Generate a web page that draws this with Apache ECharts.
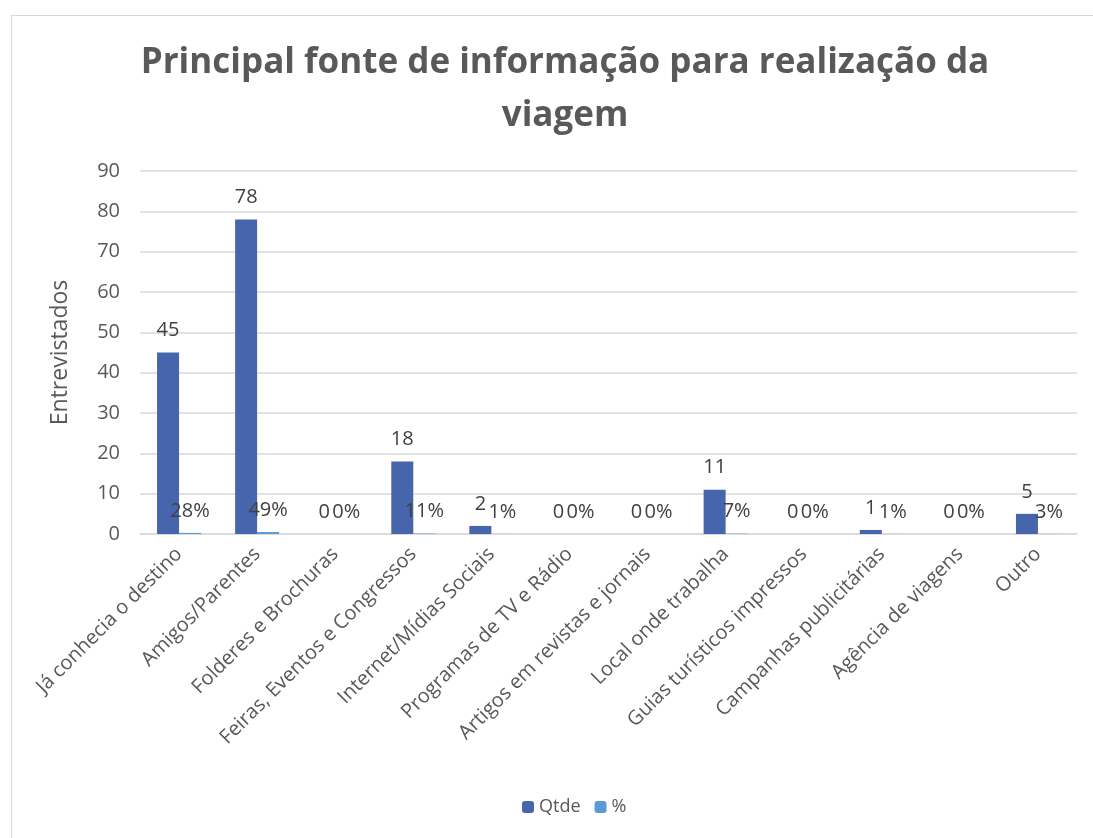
<!DOCTYPE html>
<html>
<head>
<meta charset="utf-8">
<script src="https://cdn.jsdelivr.net/npm/echarts@6/dist/echarts.min.js"></script>
<style>
  html, body { margin: 0; padding: 0; background: #fff; }
  #frame { position: absolute; left: 11px; top: 15px; width: 1100px; height: 840px; border-left: 1px solid #d9d9d9; border-top: 1px solid #d9d9d9; }
  #chart { position: absolute; left: 0; top: 0; width: 1093px; height: 838px; }
</style>
</head>
<body>
<div id="frame"></div>
<div id="chart"></div>
<script>
const categories = [
  "Já conhecia o destino",
  "Amigos/Parentes",
  "Folderes e Brochuras",
  "Feiras, Eventos e Congressos",
  "Internet/Mídias Sociais",
  "Programas de TV e Rádio",
  "Artigos em revistas e jornais",
  "Local onde trabalha",
  "Guias turísticos impressos",
  "Campanhas publicitárias",
  "Agência de viagens",
  "Outro"
];
const qtde = [45, 78, 0, 18, 2, 0, 0, 11, 0, 1, 0, 5];
const pct = [0.28, 0.49, 0, 0.11, 0.01, 0, 0, 0.07, 0, 0.01, 0, 0.03];
const yTicks = [0, 10, 20, 30, 40, 50, 60, 70, 80, 90];

const FONT = "'Open Sans', 'Noto Sans', sans-serif";
const chart = echarts.init(document.getElementById('chart'), null, { renderer: 'canvas' });
chart.setOption({
  backgroundColor: 'transparent',
  animation: false,
  textStyle: { fontFamily: FONT },
  title: {
    text: 'Principal fonte de informação para realização da\nviagem',
    left: 560,
    textAlign: 'center',
    top: 32,
    textStyle: { fontFamily: FONT, fontSize: 35, fontWeight: 'bold', color: '#595959', lineHeight: 53 }
  },
  legend: {
    bottom: 17,
    left: 517,
    itemWidth: 12,
    itemHeight: 12,
    itemGap: 14,
    textStyle: { fontFamily: FONT, fontSize: 18, color: '#595959' },
    data: ['Qtde', '%']
  },
  grid: { left: 140, right: 16, top: 171, bottom: 304, containLabel: false },
  xAxis: {
    type: 'category',
    data: categories,
    axisLine: { lineStyle: { color: '#d9d9d9', width: 1.5 } },
    axisTick: { show: false },
    axisLabel: { rotate: 45, interval: 0, fontFamily: FONT, fontSize: 20, color: '#595959', margin: 17 }
  },
  yAxis: {
    type: 'value',
    min: yTicks[0],
    max: yTicks[yTicks.length - 1],
    interval: 10,
    name: 'Entrevistados',
    nameLocation: 'middle',
    nameGap: 68,
    nameRotate: 90,
    nameTextStyle: { fontFamily: FONT, fontSize: 23, color: '#595959' },
    axisLine: { show: false },
    axisTick: { show: false },
    axisLabel: { fontFamily: FONT, fontSize: 20, color: '#595959', margin: 20 },
    splitLine: { lineStyle: { color: '#d9d9d9', width: 1.5 } }
  },
  series: [
    {
      name: 'Qtde',
      type: 'bar',
      data: qtde,
      barWidth: 22,
      barGap: '0%',
      itemStyle: { color: '#4765AD' },
      label: { show: true, position: 'top', distance: 12, fontFamily: FONT, fontSize: 20, color: '#404040' }
    },
    {
      name: '%',
      type: 'bar',
      data: pct,
      barWidth: 22,
      barGap: '0%',
      itemStyle: { color: '#5B9BD5' },
      label: {
        show: true, position: 'top', distance: 12, fontFamily: FONT, fontSize: 20, color: '#404040',
        formatter: p => Math.round(p.value * 100) + '%'
      }
    }
  ]
});
</script>
</body>
</html>
